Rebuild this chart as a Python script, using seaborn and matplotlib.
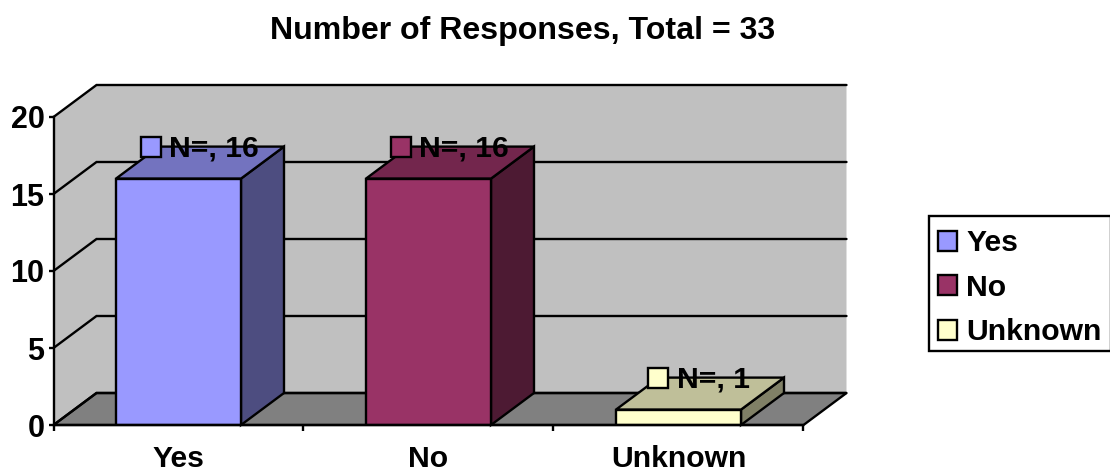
import matplotlib
matplotlib.use('Agg')
import matplotlib.pyplot as plt
from matplotlib.patches import Polygon
import seaborn as sns
import pandas as pd

categories = ['Yes', 'No', 'Unknown']
responses = [16, 16, 1]
bar_labels = ['N=, 16', 'N=, 16', 'N=, 1']
y_ticks = [0, 5, 10, 15, 20]
front_colors = ['#9999FF', '#993366', '#FFFFCC']
top_colors = ['#7373BF', '#73264D', '#BFBF99']
side_colors = ['#4D4D80', '#4D1A33', '#808066']

W, H = 1110, 473
LW = 1.7
FS = 21.7

sns.set_theme(style='ticks')
plt.rcParams['font.family'] = ['Liberation Sans', 'DejaVu Sans']
plt.rcParams['font.weight'] = 'bold'

df = pd.DataFrame({'cat': categories, 'n': responses})

fig = plt.figure(figsize=(W / 100, H / 100), dpi=100)
ax = fig.add_axes([53.5 / W, (H - 425) / H, 750 / W, 308 / H])

sns.barplot(data=df, x='cat', y='n', hue='cat', palette=front_colors, saturation=1, width=0.5,
            edgecolor='black', linewidth=LW, legend=True, ax=ax, zorder=3)
ax.set_xlim(-0.5, 2.5)
ax.set_ylim(0, 20)

# depth of the fake 3d box, in data units
dx = 43 / 250
dy = 32 / 15.4

# walls and floor
ax.add_patch(Polygon([(-0.5, 0), (-0.5, 20), (-0.5 + dx, 20 + dy), (2.5 + dx, 20 + dy),
                      (2.5 + dx, dy), (-0.5 + dx, dy)],
                     fc='#C0C0C0', ec='none', clip_on=False, zorder=0.5))
ax.add_patch(Polygon([(-0.5, 0), (2.5, 0), (2.5 + dx, dy), (-0.5 + dx, dy)],
                     fc='#808080', ec='black', lw=LW, clip_on=False, zorder=0.6))

# grid lines run up the left wall and along the back wall
for v in y_ticks:
    ax.plot([-0.5, -0.5 + dx, 2.5 + dx], [v, v + dy, v + dy], color='black', lw=LW,
            clip_on=False, zorder=0.7, solid_joinstyle='miter')

# bar sides and tops, taken from the bars seaborn drew
bars = [c[0] for c in ax.containers]
for bar, top_c, side_c in zip(bars, top_colors, side_colors):
    x0 = bar.get_x()
    x1 = x0 + bar.get_width()
    h = bar.get_height()
    ax.add_patch(Polygon([(x1, 0), (x1, h), (x1 + dx, h + dy), (x1 + dx, dy)],
                         fc=side_c, ec='black', lw=LW, clip_on=False, zorder=3))
    ax.add_patch(Polygon([(x0, h), (x1, h), (x1 + dx, h + dy), (x0 + dx, h + dy)],
                         fc=top_c, ec='black', lw=LW, clip_on=False, zorder=3))
    bar.set_zorder(3.1)

# data labels with their colour key, the short label sits a bit further right
for bar, label, color in zip(bars, bar_labels, front_colors):
    cx = bar.get_x() + bar.get_width() / 2 + dx / 2
    cy = bar.get_height() + dy
    off = 0.035 if label == 'N=, 1' else 0
    ax.plot([cx - 0.197 + off * 0.85], [cy], marker='s', ms=14, mfc=color, mec='black', mew=LW,
            clip_on=False, zorder=5, ls='none')
    ax.text(cx - 0.125 + off, cy - 0.13, label, fontsize=FS, fontweight='bold', color='black',
            ha='left', va='center', zorder=6, clip_on=False)

ax.set_yticks(y_ticks)
ax.set_xticks([-0.5, 0.5, 1.5, 2.5])
ax.set_xticklabels([])
ax.set_xticks([0, 1, 2], labels=categories, minor=True)
ax.tick_params(axis='x', which='major', length=4.5, width=LW, color='black')
ax.tick_params(axis='x', which='minor', length=0, pad=14.5, labelsize=FS)
ax.tick_params(axis='y', length=3.5, width=LW, color='black', labelsize=22, pad=3)
for t in ax.get_xticklabels(minor=True) + ax.get_yticklabels():
    t.set_fontweight('bold')
    t.set_color('black')
ax.set_xlabel('')
ax.set_ylabel('')
sns.despine(ax=ax, top=True, right=True)
for s in ['left', 'bottom']:
    ax.spines[s].set_linewidth(LW)
    ax.spines[s].set_color('black')
    ax.spines[s].set_zorder(4)

handles, labels = ax.get_legend_handles_labels()
for handle in handles:
    handle.set_edgecolor('black')
    handle.set_linewidth(LW)
leg = ax.legend(handles, labels, loc='upper left', bbox_to_anchor=(929 / W, 1 - 216 / H),
                bbox_transform=fig.transFigure, fontsize=FS, frameon=True, fancybox=False,
                framealpha=1, edgecolor='black', borderpad=0.3, borderaxespad=0,
                handlelength=0.64, handleheight=0.64, handletextpad=0.3, labelspacing=0.55,
                title=None)
leg.get_frame().set_linewidth(LW)
# entries sit a little low in the frame
for t in leg.get_texts():
    t.set_fontweight('bold')
    t.set_color('black')
    t.set_position((0, -4))
for p in leg.get_patches():
    p.set_y(p.get_y() - 3)

fig.text(523 / W, 1 - 31 / H, 'Number of Responses, Total = 33', fontsize=23.1, fontweight='bold',
         color='black', ha='center', va='center')

fig.savefig('out.png', dpi=100)
